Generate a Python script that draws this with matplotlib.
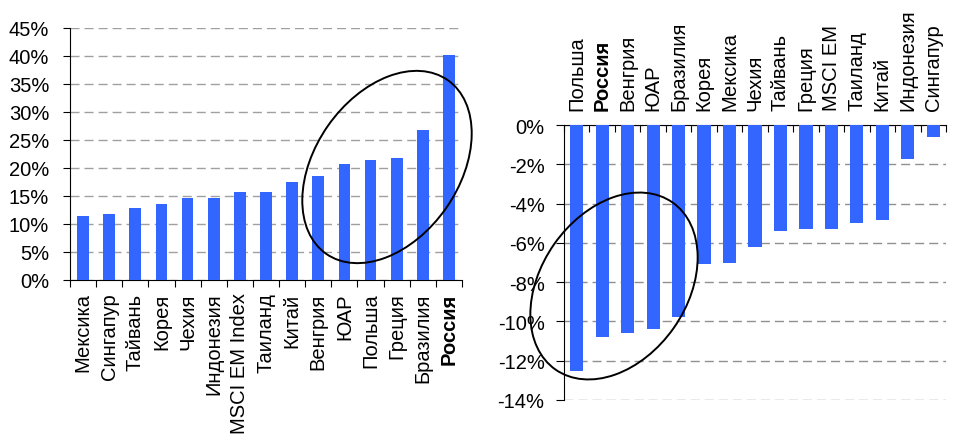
import matplotlib.pyplot as plt
from matplotlib.patches import Ellipse
from matplotlib.ticker import MultipleLocator, FuncFormatter

plt.rcParams['font.family'] = ['Liberation Sans', 'DejaVu Sans']

# left chart: growth, %
left_names = ['Мексика', 'Сингапур', 'Тайвань', 'Корея', 'Чехия', 'Индонезия',
              'MSCI EM Index', 'Таиланд', 'Китай', 'Венгрия', 'ЮАР', 'Польша',
              'Греция', 'Бразилия', 'Россия']
left_vals = [11.5, 11.8, 12.9, 13.6, 14.7, 14.7, 15.7, 15.7, 17.5, 18.6,
             20.7, 21.4, 21.7, 26.7, 40.2]

# right chart: drop, %
right_names = ['Польша', 'Россия', 'Венгрия', 'ЮАР', 'Бразилия', 'Корея',
               'Мексика', 'Чехия', 'Тайвань', 'Греция', 'MSCI EM', 'Таиланд',
               'Китай', 'Индонезия', 'Сингапур']
right_vals = [-12.5, -10.8, -10.6, -10.4, -9.75, -7.1, -7.0, -6.2, -5.4,
              -5.3, -5.3, -5.0, -4.85, -1.75, -0.63]

BLUE = '#3366ff'
FS = 14.5
pct = FuncFormatter(lambda v, p: '%d%%' % round(v))
dash = (0, (6.5, 3.6))

fig = plt.figure(figsize=(9.6, 4.35), dpi=100)

######## left
ax1 = fig.add_axes([70 / 960, 1 - 281 / 435, 392 / 960, 252 / 435])
ax1.bar(range(len(left_vals)), left_vals, width=0.45, color=BLUE, zorder=3)
ax1.set_xlim(-0.5, len(left_vals) - 0.5)
ax1.set_ylim(0, 45)
ax1.yaxis.set_major_locator(MultipleLocator(5))
ax1.yaxis.set_major_formatter(pct)
ax1.grid(axis='y', linestyle=dash, color='#a0a0a0', linewidth=1, zorder=0)
ax1.set_xticks([i + 0.5 for i in range(-1, len(left_vals))], minor=False)
ax1.set_xticklabels([])
ax1.set_xticks(range(len(left_vals)), minor=True)
ax1.set_xticklabels(left_names, minor=True, rotation=90, fontsize=FS,
                    va='top', ha='center')
ax1.tick_params(axis='x', which='minor', length=0, pad=9)
ax1.tick_params(axis='x', which='major', length=5, direction='out')
ax1.tick_params(axis='y', labelsize=FS, length=5, pad=10)
for s in ['top', 'right']:
    ax1.spines[s].set_visible(False)
ax1.get_xticklabels(minor=True)[-1].set_fontweight('bold')

######## right
ax2 = fig.add_axes([564 / 960, 1 - 401 / 435, 382 / 960, 275 / 435])
ax2.bar(range(len(right_vals)), right_vals, width=0.52, color=BLUE, zorder=3)
ax2.set_xlim(-0.5, len(right_vals) - 0.5)
ax2.set_ylim(-14, 0)
ax2.yaxis.set_major_locator(MultipleLocator(2))
ax2.yaxis.set_major_formatter(pct)
ax2.grid(axis='y', linestyle=dash, color='#909090', linewidth=1, zorder=0)
ax2.xaxis.tick_top()
ax2.set_xticks([i + 0.5 for i in range(-1, len(right_vals))], minor=False)
ax2.set_xticklabels([])
ax2.set_xticks(range(len(right_vals)), minor=True)
ax2.set_xticklabels(right_names, minor=True, rotation=90, fontsize=FS,
                    va='bottom', ha='center')
ax2.tick_params(axis='x', which='minor', length=0, pad=11, top=True, bottom=False)
ax2.tick_params(axis='x', which='major', length=5, direction='in', top=True, bottom=False)
ax2.tick_params(axis='y', labelsize=FS, length=6, pad=8)
for s in ['bottom', 'right']:
    ax2.spines[s].set_visible(False)
ax2.get_xticklabels(minor=True)[1].set_fontweight('bold')

######## hand drawn circles (pixel coords -> inches)
for cx, cy, w, h, ang in [(387, 168, 212, 144, 55), (614, 287, 204, 146, 55)]:
    e = Ellipse((cx / 100, (435 - cy) / 100), w / 100, h / 100, angle=ang,
                fill=False, edgecolor='black', linewidth=1.4,
                transform=fig.dpi_scale_trans, zorder=10)
    fig.add_artist(e)

plt.savefig('out.png', dpi=100)
